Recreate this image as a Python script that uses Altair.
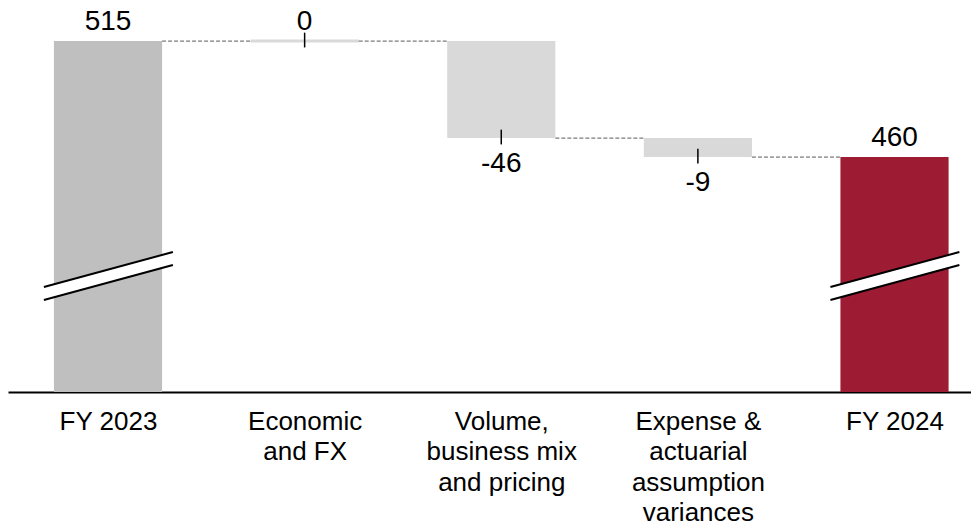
import json
import altair as alt
import pandas as pd

# ---- data ----
categories = ["FY 2023", "Economic and FX", "Volume, business mix and pricing",
              "Expense & actuarial assumption variances", "FY 2024"]
axis_lines = [["FY 2023"], ["Economic", "and FX"], ["Volume,", "business mix", "and pricing"],
              ["Expense &", "actuarial", "assumption", "variances"], ["FY 2024"]]
kinds = ["total", "delta", "delta", "delta", "total"]
amounts = [515, 0, -46, -9, 460]
value_labels = ["515", "0", "-46", "-9", "460"]
bar_colors = ["#bfbfbf", "#d9d9d9", "#d9d9d9", "#d9d9d9", "#9e1b34"]

Y_MIN, Y_MAX = 348.6, 530.7          # broken value axis
X_MIN, X_MAX = -0.5086, 4.389
HALF = 0.275                          # half bar width (x units)

# ---- derived table ----
rows = []
running = 0.0
for i, (cat, kind, amt, lab, col) in enumerate(zip(categories, kinds, amounts, value_labels, bar_colors)):
    if kind == "total":
        lo, hi, end = Y_MIN, amt, amt
        running = amt
    else:
        start = running
        end = running + amt
        lo, hi = min(start, end), max(start, end)
        running = end
    rows.append(dict(idx=i, cat=cat, kind=kind, amt=amt, label=lab, color=col,
                     x1=i - HALF, x2=i + HALF, lo=lo, hi=hi, end=end,
                     tick_top=end + 4, tick_bot=end - 3))
df = pd.DataFrame(rows)

conn = pd.DataFrame([
    dict(x1=rows[i]["x2"], x2=rows[i + 1]["x1"], y=rows[i]["end"]) for i in range(len(rows) - 1)
])

brk = df[df.kind == "total"].copy()
brk["bx1"] = brk.idx - 0.326
brk["bx2"] = brk.idx + 0.33
brk["by1"] = Y_MIN + 46.7
brk["by2"] = Y_MIN + 63.3
brk["uy1"] = brk.by1 + 3.08
brk["uy2"] = brk.by2 + 3.08
brk["ly1"] = brk.by1 - 3.08
brk["ly2"] = brk.by2 - 3.08

FONT = "Liberation Sans"
xs = alt.Scale(domain=[X_MIN, X_MAX], nice=False, zero=False)
ys = alt.Scale(domain=[Y_MIN, Y_MAX], nice=False, zero=False)

label_expr = json.dumps(axis_lines) + "[datum.value]"
x_axis = alt.Axis(values=list(range(len(categories))), labelExpr=label_expr, title=None,
                  domain=True, domainColor="black", domainWidth=2, ticks=False, grid=False,
                  labelFontSize=26, labelLineHeight=30.5, labelPadding=16, labelFont=FONT,
                  labelColor="black", labelAlign="center", labelBaseline="top",
                  labelFlush=False, labelOverlap=False)


def X(field):
    return alt.X(field, scale=xs, axis=x_axis, title=None)


def Y(field):
    return alt.Y(field, scale=ys, axis=None)


base = alt.Chart(df)

bars = base.transform_filter("datum.hi - datum.lo > 0").mark_bar().encode(
    x=X("x1:Q"), x2="x2:Q",
    y=Y("lo:Q"), y2="hi:Q",
    color=alt.Color("color:N", scale=None),
)

flat = base.transform_filter("datum.hi - datum.lo == 0").mark_rule(strokeWidth=3, color="#d9d9d9").encode(
    x=X("x1:Q"), x2="x2:Q",
    y=Y("end:Q"),
)

bchart = alt.Chart(brk)
band = bchart.mark_rule(strokeWidth=12, color="white", strokeCap="butt").encode(
    x=X("bx1:Q"), x2="bx2:Q", y=Y("by1:Q"), y2="by2:Q",
)
upper = bchart.mark_rule(strokeWidth=2, color="black").encode(
    x=X("bx1:Q"), x2="bx2:Q", y=Y("uy1:Q"), y2="uy2:Q",
)
lower = bchart.mark_rule(strokeWidth=2, color="black").encode(
    x=X("bx1:Q"), x2="bx2:Q", y=Y("ly1:Q"), y2="ly2:Q",
)

connectors = alt.Chart(conn).mark_rule(strokeWidth=1, color="#595959", strokeDash=[4, 2]).encode(
    x=X("x1:Q"), x2="x2:Q", y=Y("y:Q"),
)

ticks = base.transform_filter("datum.kind == 'delta'").mark_rule(strokeWidth=1.5, color="black").encode(
    x=X("idx:Q"), y=Y("tick_top:Q"), y2="tick_bot:Q",
)

pos_labels = base.transform_filter("datum.amt >= 0").mark_text(
    font=FONT, fontSize=28, color="black", baseline="alphabetic", dy=-11, align="center"
).encode(
    x=X("idx:Q"), y=Y("hi:Q"), text="label:N",
)
neg_labels = base.transform_filter("datum.amt < 0").mark_text(
    font=FONT, fontSize=28, color="black", baseline="top", dy=12, align="center"
).encode(
    x=X("idx:Q"), y=Y("end:Q"), text="label:N",
)

chart = alt.layer(bars, flat, band, upper, lower, connectors, ticks, pos_labels, neg_labels).properties(
    width=963, height=384, padding=0, background="white"
).configure_view(stroke=None)

chart.save("out.html", embed_options={"renderer": "svg", "actions": False})
